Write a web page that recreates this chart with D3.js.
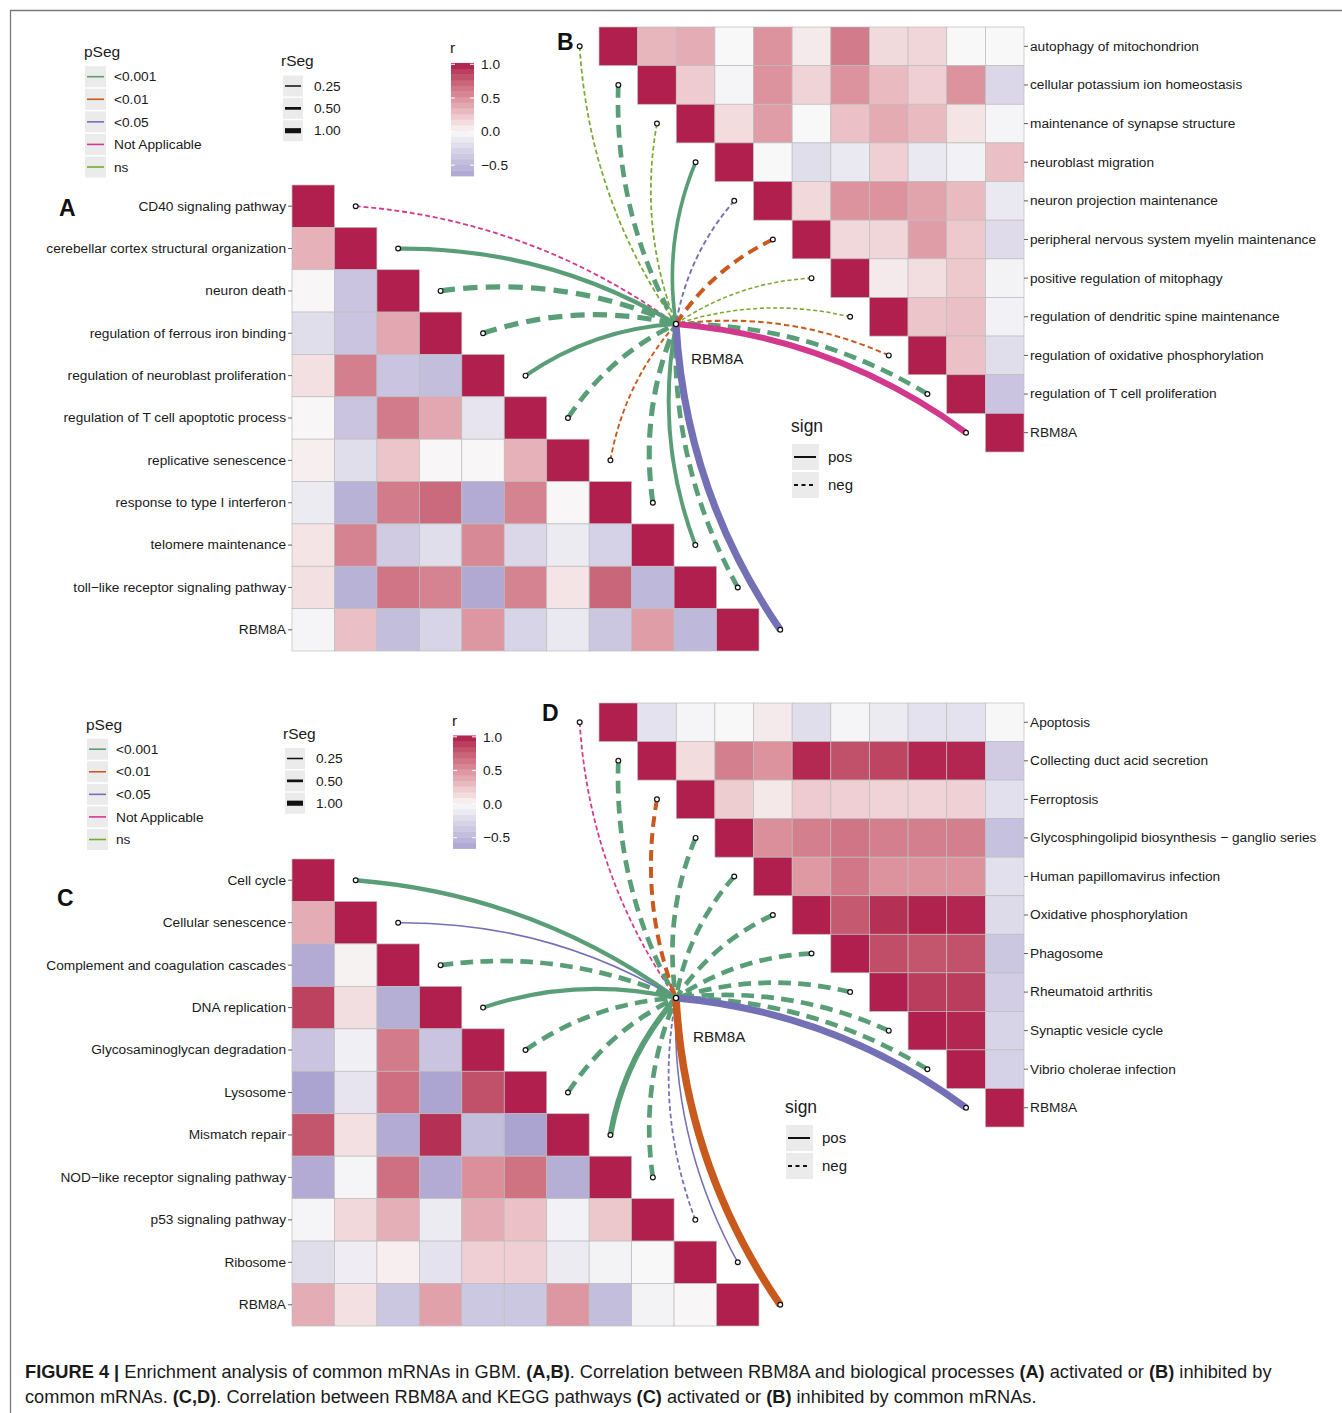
<!DOCTYPE html>
<html><head><meta charset="utf-8">
<script src="https://cdn.jsdelivr.net/npm/d3@7"></script>
<style>body{margin:0;background:#fff}</style>
</head><body><svg id="c" width="1342" height="1413"></svg>
<script>
// ---------------- DATA ----------------
const pLevels = ["<0.001", "<0.01", "<0.05", "Not Applicable", "ns"];
const pColors = ["#5A9E78", "#C85A1E", "#7470B6", "#D2398C", "#7BAA33"];
const rSegBreaks = [0.25, 0.50, 1.00];
const rSegLabels = ["0.25", "0.50", "1.00"];
const rTicks = [1.0, 0.5, 0.0, -0.5];
const rTickLabels = ["1.0", "0.5", "0.0", "\u22120.5"];
const signLevels = ["pos", "neg"];

const varsA = ["CD40 signaling pathway", "cerebellar cortex structural organization", "neuron death",
  "regulation of ferrous iron binding", "regulation of neuroblast proliferation",
  "regulation of T cell apoptotic process", "replicative senescence", "response to type I interferon",
  "telomere maintenance", "toll\u2212like receptor signaling pathway", "RBM8A"];
const varsB = ["autophagy of mitochondrion", "cellular potassium ion homeostasis", "maintenance of synapse structure",
  "neuroblast migration", "neuron projection maintenance", "peripheral nervous system myelin maintenance",
  "positive regulation of mitophagy", "regulation of dendritic spine maintenance",
  "regulation of oxidative phosphorylation", "regulation of T cell proliferation", "RBM8A"];
const varsC = ["Cell cycle", "Cellular senescence", "Complement and coagulation cascades", "DNA replication",
  "Glycosaminoglycan degradation", "Lysosome", "Mismatch repair", "NOD\u2212like receptor signaling pathway",
  "p53 signaling pathway", "Ribosome", "RBM8A"];
const varsD = ["Apoptosis", "Collecting duct acid secretion", "Ferroptosis",
  "Glycosphingolipid biosynthesis \u2212 ganglio series", "Human papillomavirus infection",
  "Oxidative phosphorylation", "Phagosome", "Rheumatoid arthritis", "Synaptic vesicle cycle",
  "Vibrio cholerae infection", "RBM8A"];

// correlation matrices (lower triangle for A,C : row i, cols 0..i ; upper triangle for B,D : row i, cols i..10)
const corA = [
  [1],
  [0.35, 1],
  [0.01, -0.4, 1],
  [-0.2, -0.4, 0.4, 1],
  [0.12, 0.6, -0.4, -0.45, 1],
  [0.01, -0.4, 0.62, 0.4, -0.15, 1],
  [0.05, -0.2, 0.25, 0.01, 0.01, 0.35, 1],
  [-0.1, -0.55, 0.62, 0.7, -0.6, 0.58, 0.01, 1],
  [0.1, 0.58, -0.35, -0.2, 0.55, -0.25, -0.1, -0.3, 1],
  [0.12, -0.55, 0.65, 0.58, -0.62, 0.58, 0.1, 0.72, -0.5, 1],
  [-0.03, 0.28, -0.45, -0.28, 0.48, -0.28, -0.12, -0.38, 0.45, -0.5, 1]
];
const corB = [
  [1, 0.33, 0.37, 0.0, 0.5, 0.07, 0.62, 0.15, 0.17, 0.0, 0.0],
  [1, 0.22, -0.03, 0.5, 0.18, 0.5, 0.3, 0.2, 0.5, -0.25],
  [1, 0.14, 0.45, 0.0, 0.27, 0.38, 0.3, 0.1, -0.03],
  [1, 0.0, -0.2, -0.12, 0.2, -0.12, -0.05, 0.28],
  [1, 0.16, 0.5, 0.5, 0.42, 0.3, -0.12],
  [1, 0.16, 0.17, 0.45, 0.23, -0.22],
  [1, 0.07, 0.13, 0.23, -0.04],
  [1, 0.25, 0.28, -0.05],
  [1, 0.27, -0.2],
  [1, -0.4],
  [1]
];
const corC = [
  [1],
  [0.37, 1],
  [-0.6, 0.03, 1],
  [0.88, 0.13, -0.58, 1],
  [-0.4, -0.07, 0.62, -0.4, 1],
  [-0.66, -0.15, 0.68, -0.65, 0.82, 1],
  [0.8, 0.12, -0.6, 0.95, -0.45, -0.66, 1],
  [-0.6, -0.03, 0.67, -0.6, 0.52, 0.66, -0.58, 1],
  [-0.03, 0.16, 0.36, -0.1, 0.37, 0.27, -0.05, 0.24, 1],
  [-0.2, -0.08, 0.05, -0.17, 0.2, 0.2, -0.1, -0.04, 0.0, 1],
  [0.37, 0.12, -0.38, 0.43, -0.37, -0.38, 0.48, -0.45, -0.04, 0.01, 1]
];
const corD = [
  [1, -0.17, -0.03, 0.0, 0.07, -0.2, -0.03, -0.1, -0.17, -0.17, -0.01],
  [1, 0.14, 0.6, 0.5, 0.97, 0.82, 0.87, 0.98, 0.98, -0.35],
  [1, 0.21, 0.08, 0.22, 0.2, 0.18, 0.18, 0.19, -0.18],
  [1, 0.52, 0.6, 0.65, 0.6, 0.6, 0.6, -0.43],
  [1, 0.47, 0.64, 0.5, 0.5, 0.5, -0.18],
  [1, 0.78, 0.95, 0.99, 0.98, -0.23],
  [1, 0.83, 0.8, 0.81, -0.38],
  [1, 0.9, 0.9, -0.33],
  [1, 0.98, -0.28],
  [1, -0.3],
  [1]
];

// links from RBM8A to each variable: correlation r (sign -> line type, |r| -> width) and p segment
const linkA_r = [-0.19, 0.53, -0.69, -0.68, 0.52, -0.62, -0.2, -0.66, 0.5, -0.6, 0.95];
const linkA_p = ["Not Applicable", "<0.001", "<0.001", "<0.001", "<0.001", "<0.001", "<0.01", "<0.001", "<0.001", "<0.001", "<0.05"];
const linkB_r = [-0.18, -0.6, -0.18, 0.45, -0.2, -0.5, -0.15, -0.15, -0.22, -0.6, 0.8];
const linkB_p = ["ns", "<0.001", "ns", "<0.001", "<0.05", "<0.01", "ns", "ns", "<0.01", "<0.001", "Not Applicable"];
const linkC_r = [0.55, 0.15, -0.6, 0.52, -0.6, -0.62, 0.75, -0.6, -0.18, 0.15, 1.0];
const linkC_p = ["<0.001", "<0.05", "<0.001", "<0.001", "<0.001", "<0.001", "<0.001", "<0.001", "<0.05", "<0.05", "<0.01"];
const linkD_r = [-0.18, -0.6, -0.5, -0.6, -0.58, -0.6, -0.6, -0.6, -0.6, -0.6, 0.92];
const linkD_p = ["Not Applicable", "<0.001", "<0.01", "<0.001", "<0.001", "<0.001", "<0.001", "<0.001", "<0.001", "<0.001", "<0.05"];

// ---------------- RENDER ----------------
const FONT = "'Liberation Sans', Arial, Helvetica, sans-serif";
const svg = d3.select("#c").style("font-family", FONT);
svg.append("rect").attr("width", 1342).attr("height", 1413).attr("fill", "#fff");

// frame
svg.append("path").attr("d", "M10.5,1413 V10.5 H1342").attr("fill", "none").attr("stroke", "#7a7a7a").attr("stroke-width", 1.3);

const fillScale = d3.scaleLinear().domain([-0.66, 0, 1])
  .range(["#ACA4D0", "#F8F8F8", "#B01F4E"]).interpolate(d3.interpolateLab).clamp(true);
const pColor = d3.scaleOrdinal().domain(pLevels).range(pColors);
const lwScale = d3.scaleLinear().domain([0, 1]).range([0.5, 7.5]);
function dashFor(r) {
  if (r >= 0) return null;
  const w = lwScale(Math.abs(r));
  return [Math.max(3.5, 2.7 * w), Math.max(2.5, 1.55 * w)].join(",");
}

function heatmap(cfg) {
  const n = cfg.vars.length;
  const x = d3.scaleBand().domain(d3.range(n)).range(cfg.xr);
  const y = d3.scaleBand().domain(d3.range(n)).range(cfg.yr);
  const cells = [];
  cfg.mat.forEach((row, i) => row.forEach((v, k) => {
    const j = cfg.tri === "lower" ? k : i + k;
    cells.push({ i, j, v });
  }));
  const g = svg.append("g");
  g.selectAll("rect").data(cells).join("rect")
    .attr("x", d => x(d.j)).attr("y", d => y(d.i))
    .attr("width", x.bandwidth()).attr("height", y.bandwidth())
    .attr("fill", d => fillScale(d.v))
    .attr("stroke", "#BDBDBD").attr("stroke-width", 0.7);
  // axis labels
  const ly = d3.scaleBand().domain(cfg.vars).range(cfg.yr);
  const axis = cfg.tri === "lower" ? d3.axisLeft(ly) : d3.axisRight(ly);
  axis.tickSize(4).tickPadding(2);
  const ag = svg.append("g")
    .attr("transform", `translate(${cfg.tri === "lower" ? cfg.xr[0] : cfg.xr[1]},0)`)
    .call(axis);
  ag.select(".domain").remove();
  ag.selectAll(".tick line").attr("stroke", "#333").attr("stroke-width", 0.8);
  ag.selectAll(".tick text").attr("fill", "#1a1a1a").style("font-size", "13.7px").style("font-family", FONT);
  // node scales for the link endpoints (column centres)
  cfg.nx = d3.scaleLinear().domain([-0.5, n - 0.5]).range(cfg.xr);
  cfg.ny = d3.scaleLinear().domain([-0.5, n - 0.5]).range(cfg.yr);
  // panel letter
  svg.append("text").attr("x", cfg.letter[1]).attr("y", cfg.letter[2])
    .attr("font-size", 23).attr("font-weight", "bold").attr("fill", "#111").text(cfg.letter[0]);
}

function links(cfg, hub) {
  const k = 0.14;
  const data = cfg.lr.map((r, i) => {
    const ex = cfg.nx(i + cfg.shift), ey = cfg.ny(i);
    const dx = hub[0] - ex, dy = hub[1] - ey;
    const mx = (ex + hub[0]) / 2, my = (ey + hub[1]) / 2;
    const cx = mx + cfg.curve * k * dy, cy = my - cfg.curve * k * dx;
    return { r, p: cfg.lp[i], ex, ey, d: `M${ex},${ey} Q${cx},${cy} ${hub[0]},${hub[1]}` };
  });
  svg.append("g").selectAll("path").data(data).join("path")
    .attr("d", d => d.d).attr("fill", "none")
    .attr("stroke", d => pColor(d.p))
    .attr("stroke-width", d => lwScale(Math.abs(d.r)))
    .attr("stroke-dasharray", d => dashFor(d.r));
  return data;
}
function points(data) {
  svg.append("g").selectAll("circle").data(data).join("circle")
    .attr("cx", d => d.ex).attr("cy", d => d.ey).attr("r", 2.4)
    .attr("fill", "#fff").attr("stroke", "#111").attr("stroke-width", 1.2);
}

function block(cfgL, cfgU, hub, hubLabel) {
  heatmap(cfgL); heatmap(cfgU);
  const dl = links(cfgL, hub);
  const du = links(cfgU, hub);
  points(dl); points(du);
  svg.append("circle").attr("cx", hub[0]).attr("cy", hub[1]).attr("r", 2.6)
    .attr("fill", "#fff").attr("stroke", "#111").attr("stroke-width", 1.3);
  svg.append("text").attr("x", hubLabel[0]).attr("y", hubLabel[1]).attr("font-size", 15.2)
    .attr("fill", "#1a1a1a").text("RBM8A");
}

block(
  { vars: varsA, mat: corA, tri: "lower", xr: [292, 759], yr: [185, 651], lr: linkA_r, lp: linkA_p, shift: 1, curve: 1, letter: ["A", 59, 216] },
  { vars: varsB, mat: corB, tri: "upper", xr: [599, 1024], yr: [27, 452], lr: linkB_r, lp: linkB_p, shift: -1, curve: -1, letter: ["B", 557, 50] },
  [676, 324], [691, 364]
);
block(
  { vars: varsC, mat: corC, tri: "lower", xr: [292, 759], yr: [859, 1326], lr: linkC_r, lp: linkC_p, shift: 1, curve: 1, letter: ["C", 57, 906] },
  { vars: varsD, mat: corD, tri: "upper", xr: [599, 1024], yr: [703, 1127], lr: linkD_r, lp: linkD_p, shift: -1, curve: -1, letter: ["D", 542, 721] },
  [676, 998], [693, 1042]
);

// ---------------- LEGENDS ----------------
function legends(dx, dy, sx, sy) {
  const g = svg.append("g").attr("transform", `translate(${dx},${dy})`);
  // pSeg
  g.append("text").attr("x", 84).attr("y", 57).attr("font-size", 15.5).attr("fill", "#1a1a1a").text("pSeg");
  const py = d3.scalePoint().domain(pLevels).range([76.7, 167]);
  pLevels.forEach(p => {
    g.append("rect").attr("x", 85).attr("y", py(p) - 10.5).attr("width", 21).attr("height", 21).attr("fill", "#EBEBEB");
    g.append("line").attr("x1", 87).attr("x2", 104).attr("y1", py(p)).attr("y2", py(p))
      .attr("stroke", pColor(p)).attr("stroke-width", 1.6);
    g.append("text").attr("x", 114).attr("y", py(p) + 4.7).attr("font-size", 13.7).attr("fill", "#1a1a1a").text(p);
  });
  // rSeg
  g.append("text").attr("x", 281).attr("y", 66).attr("font-size", 15.5).attr("fill", "#1a1a1a").text("rSeg");
  const ry = d3.scalePoint().domain(rSegBreaks).range([86, 130.7]);
  rSegBreaks.forEach((b, i) => {
    g.append("rect").attr("x", 283).attr("y", ry(b) - 10.5).attr("width", 20).attr("height", 21).attr("fill", "#EBEBEB");
    g.append("line").attr("x1", 285).attr("x2", 301).attr("y1", ry(b)).attr("y2", ry(b))
      .attr("stroke", "#111").attr("stroke-width", lwScale(b) * 0.68);
    g.append("text").attr("x", 314).attr("y", ry(b) + 4.7).attr("font-size", 13.7).attr("fill", "#1a1a1a").text(rSegLabels[i]);
  });
  // r colour bar
  g.append("text").attr("x", 450).attr("y", 53).attr("font-size", 15.5).attr("fill", "#1a1a1a").text("r");
  const by = d3.scaleLinear().domain([-0.66, 1.0]).range([176, 64.3]);
  const nb = 20, lo = -0.66, hi = 1.02;
  d3.range(nb).forEach(b => {
    const v0 = lo + (hi - lo) * b / nb, v1 = lo + (hi - lo) * (b + 1) / nb;
    g.append("rect").attr("x", 451).attr("y", by(v1)).attr("width", 23).attr("height", by(v0) - by(v1) + 0.4)
      .attr("fill", fillScale((v0 + v1) / 2));
  });
  rTicks.forEach((t, i) => {
    g.append("line").attr("x1", 451).attr("x2", 455).attr("y1", by(t)).attr("y2", by(t)).attr("stroke", "#fff").attr("stroke-width", 1);
    g.append("line").attr("x1", 470).attr("x2", 474).attr("y1", by(t)).attr("y2", by(t)).attr("stroke", "#fff").attr("stroke-width", 1);
    g.append("text").attr("x", 481).attr("y", by(t) + 4.7).attr("font-size", 13.7).attr("fill", "#1a1a1a").text(rTickLabels[i]);
  });
  // sign
  const sg = svg.append("g").attr("transform", `translate(${sx},${sy})`);
  sg.append("text").attr("x", 0).attr("y", 6).attr("font-size", 17.5).attr("fill", "#1a1a1a").text("sign");
  const sy2 = d3.scalePoint().domain(signLevels).range([31, 59]);
  signLevels.forEach(s => {
    sg.append("rect").attr("x", 1).attr("y", sy2(s) - 13).attr("width", 27).attr("height", 26).attr("fill", "#EBEBEB");
    sg.append("line").attr("x1", 3).attr("x2", 25).attr("y1", sy2(s)).attr("y2", sy2(s))
      .attr("stroke", "#111").attr("stroke-width", 2)
      .attr("stroke-dasharray", s === "neg" ? "4,3.5" : null);
    sg.append("text").attr("x", 37).attr("y", sy2(s) + 5).attr("font-size", 15).attr("fill", "#1a1a1a").text(s);
  });
}
legends(0, 0, 791, 426);
legends(2, 672.5, 785, 1107);

// ---------------- CAPTION ----------------
const capLines = [
  [["FIGURE 4 |", true], [" Enrichment analysis of common mRNAs in GBM. ", false], ["(A,B)", true],
   [". Correlation between RBM8A and biological processes ", false], ["(A)", true], [" activated or ", false],
   ["(B)", true], [" inhibited by", false]],
  [["common mRNAs. ", false], ["(C,D)", true], [". Correlation between RBM8A and KEGG pathways ", false],
   ["(C)", true], [" activated or ", false], ["(B)", true], [" inhibited by common mRNAs.", false]]
];
const capY = [1378, 1403];
let capFs = 17;
capLines.forEach((line, li) => {
  const t = svg.append("text").attr("x", 25).attr("y", capY[li]).attr("font-size", capFs).attr("fill", "#1a1a1a");
  line.forEach(([s, b]) => t.append("tspan").attr("font-weight", b ? "bold" : null).text(s));
  if (li === 0) {
    const w = t.node().getComputedTextLength();
    capFs = 17 * 1247 / w;
    t.attr("font-size", capFs);
  }
});
</script>
</body></html>
